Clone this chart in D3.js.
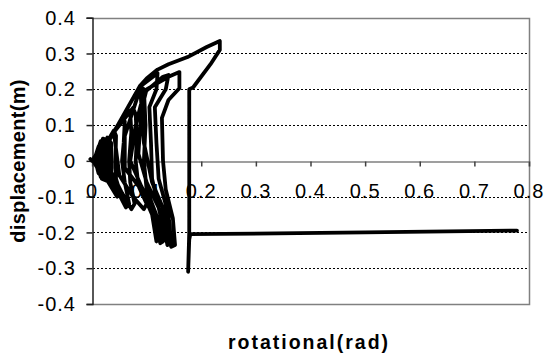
<!DOCTYPE html>
<html>
<head>
<meta charset="utf-8">
<script src="https://cdn.jsdelivr.net/npm/d3@7"></script>
<style>
  html, body { margin: 0; padding: 0; background: #fff; }
  svg { display: block; }
  text { font-family: "Liberation Sans", Arial, sans-serif; fill: #000; }
</style>
</head>
<body>
<svg id="chart" width="544" height="356"></svg>
<script>
// Rotation (rad) vs displacement (m) hysteresis trace
const rotation = [
  -0.003, 0.000, 0.010, 0.015, 0.016, 0.012, 0.006, 0.002,
  0.004, 0.016, 0.020, 0.021, 0.018, 0.010, 0.005,
  0.006, 0.012, 0.022, 0.023, 0.020, 0.012, 0.006,
  0.008, 0.020, 0.025, 0.026, 0.024, 0.014, 0.008,
  0.008, 0.016, 0.027, 0.029, 0.026, 0.016, 0.009,
  0.010, 0.024, 0.030, 0.031, 0.028, 0.020, 0.012,
  0.011, 0.020, 0.033, 0.034, 0.030, 0.018, 0.011,
  0.012, 0.028, 0.035, 0.036, 0.034, 0.022, 0.014,
  0.015, 0.040, 0.044, 0.043, 0.044, 0.052, 0.046, 0.030, 0.020,
  0.020, 0.055, 0.060, 0.058, 0.055, 0.060, 0.068, 0.062, 0.045, 0.025,
  0.025, 0.065, 0.070, 0.072, 0.068, 0.070, 0.078, 0.072, 0.055, 0.035,
  0.030, 0.075, 0.080, 0.082, 0.080, 0.085, 0.100, 0.095, 0.075, 0.050,
  0.040, 0.088, 0.095, 0.098, 0.095, 0.100, 0.120, 0.122, 0.118, 0.110, 0.090, 0.060,
  0.060, 0.090, 0.120, 0.118, 0.105, 0.108, 0.110, 0.125, 0.130, 0.125, 0.115, 0.090, 0.070,
  0.080, 0.095, 0.130, 0.140, 0.135, 0.115, 0.118, 0.122, 0.140, 0.145, 0.138, 0.128, 0.100, 0.085,
  0.090, 0.100, 0.140, 0.160, 0.160, 0.140, 0.128, 0.130, 0.135, 0.148, 0.152, 0.145, 0.135, 0.110, 0.095, 0.088,
  0.100, 0.120, 0.140, 0.175, 0.210, 0.234, 0.234, 0.217, 0.185, 0.178,
  0.178, 0.178, 0.176, 0.178, 0.180, 0.500, 0.778
];
const displacement = [
  0.005, 0.000, 0.020, 0.010, -0.010, -0.025, -0.010, 0.000,
  0.010, 0.035, 0.020, -0.020, -0.040, -0.020, 0.000,
  0.012, 0.040, 0.035, -0.010, -0.045, -0.035, 0.000,
  0.015, 0.045, 0.030, -0.020, -0.050, -0.030, 0.000,
  0.018, 0.055, 0.045, -0.010, -0.052, -0.045, 0.000,
  0.020, 0.055, 0.040, -0.020, -0.055, -0.040, 0.000,
  0.022, 0.062, 0.055, -0.015, -0.058, -0.050, 0.000,
  0.020, 0.065, 0.050, -0.020, -0.060, -0.045, 0.000,
  0.020, 0.085, 0.070, 0.000, -0.050, -0.090, -0.100, -0.060, -0.020,
  0.030, 0.120, 0.110, 0.050, 0.000, -0.060, -0.120, -0.130, -0.080, -0.020,
  0.040, 0.145, 0.135, 0.080, 0.000, -0.060, -0.120, -0.135, -0.090, -0.030,
  0.060, 0.148, 0.130, 0.060, 0.000, -0.070, -0.120, -0.135, -0.100, -0.040,
  0.080, 0.210, 0.200, 0.100, 0.000, -0.080, -0.160, -0.220, -0.225, -0.150, -0.080, -0.020,
  0.070, 0.210, 0.245, 0.200, 0.150, 0.050, -0.050, -0.150, -0.225, -0.230, -0.150, -0.070, 0.000,
  0.100, 0.190, 0.235, 0.240, 0.200, 0.150, 0.050, -0.050, -0.150, -0.230, -0.235, -0.150, -0.060, 0.020,
  0.140, 0.200, 0.235, 0.248, 0.203, 0.170, 0.120, 0.000, -0.080, -0.160, -0.235, -0.240, -0.150, -0.060, 0.050, 0.210,
  0.230, 0.255, 0.270, 0.290, 0.318, 0.335, 0.310, 0.270, 0.205, 0.200,
  -0.100, -0.200, -0.310, -0.220, -0.205, -0.200, -0.195
];
const xTicks = [0, 0.1, 0.2, 0.3, 0.4, 0.5, 0.6, 0.7, 0.8];
const yTicks = [-0.4, -0.3, -0.2, -0.1, 0, 0.1, 0.2, 0.3, 0.4];
const xTitle = "rotational(rad)";
const yTitle = "displacement(m)";

const svg = d3.select("#chart");
const plotLeft = 92, plotRight = 529, plotTop = 17.7, plotBottom = 304;

const x = d3.scaleLinear().domain([0, 0.8]).range([plotLeft, plotRight]);
const y = d3.scaleLinear().domain([-0.4, 0.4]).range([plotBottom, plotTop]);

// plain hyphen-minus tick labels
const fmt = v => String(v);

svg.append("rect").attr("width", 544).attr("height", 356).attr("fill", "#fff");

// dashed horizontal gridlines
svg.append("g").selectAll("line")
  .data(yTicks.filter(v => v !== 0 && Math.abs(v) < 0.4))
  .join("line")
  .attr("x1", plotLeft + 1).attr("x2", plotRight - 1)
  .attr("y1", d => Math.round(y(d)) + 0.5).attr("y2", d => Math.round(y(d)) + 0.5)
  .attr("stroke", "#000").attr("stroke-width", 1)
  .attr("stroke-dasharray", "2,2");

// plot area frame (top, right, bottom)
svg.append("path")
  .attr("d", `M${plotLeft},${Math.round(plotTop) + 0.5}H${plotRight + 0.5}V${Math.round(plotBottom) + 0.5}H${plotLeft}`)
  .attr("fill", "none").attr("stroke", "#808080").attr("stroke-width", 1.5);

// horizontal axis at zero displacement
const xAxis = d3.axisBottom(x).tickValues(xTicks.filter(v => v > 0)).tickSize(5).tickFormat("");
const gx = svg.append("g").attr("transform", `translate(0,${Math.round(y(0)) + 0.5})`).call(xAxis);
gx.select(".domain").attr("stroke", "#808080").attr("stroke-width", 1.5);
gx.selectAll(".tick line").attr("stroke", "#404040").attr("stroke-width", 1.5);

// vertical axis
const yAxis = d3.axisLeft(y).tickValues(yTicks).tickSize(6).tickFormat("");
const gy = svg.append("g").attr("transform", `translate(${plotLeft + 0.5},0)`).call(yAxis);
gy.select(".domain").attr("stroke", "#202020").attr("stroke-width", 1.5);
gy.selectAll(".tick line").attr("stroke", "#202020").attr("stroke-width", 1.5);

// y tick labels
svg.append("g").selectAll("text")
  .data(yTicks).join("text")
  .attr("x", 76).attr("y", d => y(d))
  .attr("dy", "0.36em")
  .attr("text-anchor", "end")
  .attr("font-size", 20)
  .attr("letter-spacing", "1px")
  .text(fmt);

// x tick labels
svg.append("g").selectAll("text")
  .data(xTicks).join("text")
  .attr("x", d => x(d)).attr("y", 198)
  .attr("text-anchor", "middle")
  .attr("font-size", 20)
  .attr("letter-spacing", "1px")
  .text(fmt);

// data trace
const pts = rotation.map((r, i) => [r, displacement[i]]);
svg.append("path")
  .datum(pts)
  .attr("d", d3.line().x(d => x(d[0])).y(d => y(d[1])))
  .attr("fill", "none").attr("stroke", "#000").attr("stroke-width", 3.8)
  .attr("stroke-linejoin", "round").attr("stroke-linecap", "round");

// axis titles
svg.append("text")
  .attr("x", 309).attr("y", 349)
  .attr("text-anchor", "middle")
  .attr("font-size", 19.5).attr("font-weight", "bold")
  .attr("letter-spacing", "2px")
  .text(xTitle);

svg.append("text")
  .attr("transform", "translate(25,161) rotate(-90)")
  .attr("text-anchor", "middle")
  .attr("font-size", 20).attr("font-weight", "bold")
  .attr("letter-spacing", "0.3px")
  .text(yTitle);
</script>
</body>
</html>
